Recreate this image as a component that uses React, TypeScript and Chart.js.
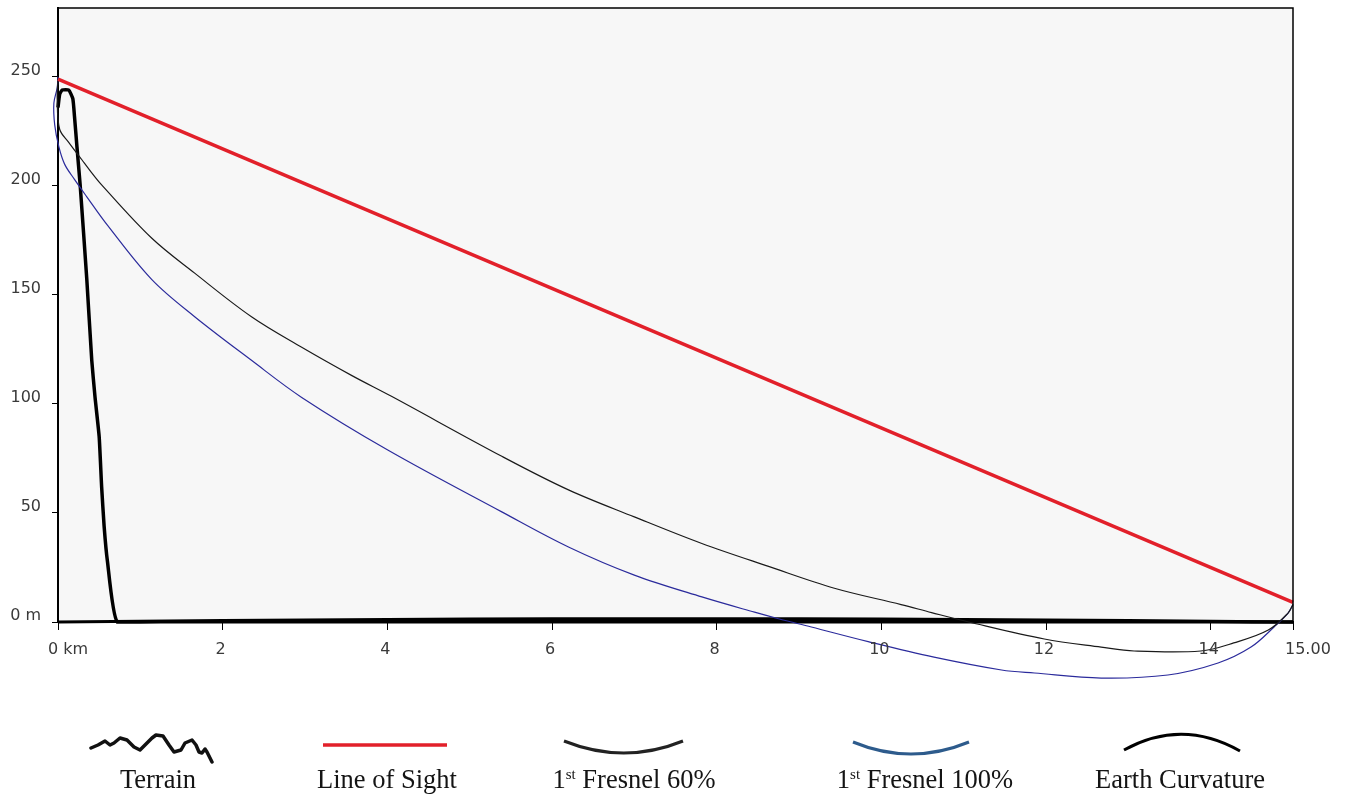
import React, { useEffect, useRef } from "react";
import { Chart, registerables } from "chart.js";

Chart.register(...registerables);

// ---- axis ticks ----
const xTicks = [0, 2, 4, 6, 8, 10, 12, 14, 15];
const xTickLabels = ["0 km", "2", "4", "6", "8", "10", "12", "14", "15.00"];
const yTicks = [0, 50, 100, 150, 200, 250];
const yTickLabels = ["0 m", "50", "100", "150", "200", "250"];

// ---- series (distance km, height m) ----
const losKm = [0, 15];
const losM = [249, 9];

const terrainKm = [0, 0.02, 0.05, 0.13, 0.18, 0.2, 0.23, 0.27, 0.35, 0.41, 0.45, 0.5, 0.53, 0.56, 0.6, 0.72, 1.25, 3, 6, 9, 12, 14, 15];
const terrainM = [236, 242, 244, 244, 240, 232, 218, 200, 157, 120, 103, 85, 62, 44, 28, 0, 0.1, 0.1, 0.1, 0.1, 0.1, 0.1, 0];

const fresnel60Km = [0, -0.01, 0.02, 0.13, 0.29, 0.38, 0.53, 1.14, 1.66, 2.35, 2.96, 3.57, 4.05, 5.39, 6.2, 7.0, 7.82, 8.63, 9.43, 10.24, 10.61, 11.06, 11.98, 12.67, 13.07, 13.88, 14.28, 14.7, 14.94, 15];
const fresnel60M = [249, 240, 226, 220, 212, 207.5, 200.5, 176, 160, 140, 126, 113, 103.5, 76, 60.6, 48.2, 36, 25.5, 15.5, 8, 4.3, 0, -7.8, -11.5, -13.3, -13.3, -9.6, -3.7, 4.1, 8];

const fresnel100Km = [0, -0.01, -0.05, -0.04, 0.01, 0.08, 0.2, 0.35, 0.6, 1.14, 1.66, 2.35, 2.96, 4.0, 5.39, 6.2, 7.0, 7.82, 8.46, 8.75, 9.15, 9.84, 10.64, 11.46, 11.86, 12.67, 13.48, 14.09, 14.49, 14.77, 14.94, 15];
const fresnel100M = [250, 245, 238, 228, 218, 210, 203, 195, 182, 157, 140, 120, 103, 79, 50.5, 34.4, 21.5, 11.5, 4.5, 1.5, -2.3, -9, -16.1, -22, -23.4, -25.7, -24.3, -18.8, -11.5, -2.3, 4.1, 8];

const curvatureKm = [0, 1, 2, 3, 4, 5, 6, 7, 8, 9, 10, 11, 12, 13, 14, 15];
const curvatureM = [0, 0.37, 0.69, 0.96, 1.17, 1.33, 1.44, 1.49, 1.49, 1.44, 1.33, 1.17, 0.96, 0.69, 0.37, 0];

const zip = (xs: number[], ys: number[]) => xs.map((x, i) => ({ x, y: ys[i] }));

const TICK_FONT = '16px "DejaVu Sans"';
const TICK_COLOR = "#3a3a3a";

const framePlugin = {
  id: "frame",
  beforeDraw(chart: any) {
    const { ctx, chartArea: a } = chart;
    ctx.save();
    ctx.fillStyle = "#f7f7f7";
    ctx.fillRect(a.left, a.top, a.right - a.left, a.bottom - a.top);
    ctx.restore();
  },
  afterDraw(chart: any) {
    const { ctx, chartArea: a } = chart;
    ctx.save();
    ctx.strokeStyle = "#000";
    ctx.lineWidth = 1.5;
    ctx.beginPath();
    ctx.moveTo(a.left, a.top);
    ctx.lineTo(a.right, a.top);
    ctx.lineTo(a.right, a.bottom);
    ctx.stroke();
    // x tick labels
    const xs = chart.scales.x;
    ctx.font = TICK_FONT;
    ctx.fillStyle = TICK_COLOR;
    ctx.textBaseline = "middle";
    xTicks.forEach((v, i) => {
      const px = xs.getPixelForValue(v);
      if (i === 0) {
        ctx.textAlign = "left";
        ctx.fillText(xTickLabels[i], px - 10, 650);
      } else if (i === xTicks.length - 1) {
        ctx.textAlign = "left";
        ctx.fillText(xTickLabels[i], px - 8, 650);
      } else {
        ctx.textAlign = "center";
        ctx.fillText(xTickLabels[i], px - 2, 650);
      }
    });
    ctx.restore();
  },
};

function ChartCanvas() {
  const ref = useRef<HTMLCanvasElement | null>(null);
  useEffect(() => {
    if (!ref.current) return;
    const line = (data: any, color: string, width: number, order: number, label: string, tension: number) => ({
      label,
      data,
      borderColor: color,
      backgroundColor: color,
      borderWidth: width,
      showLine: true,
      pointRadius: 0,
      tension,
      fill: false,
      clip: false,
      order,
      borderJoinStyle: "round",
    });
    const chart = new Chart(ref.current, {
      type: "scatter",
      data: {
        datasets: [
          line(zip(losKm, losM), "#e2202a", 3.5, 0, "Line of Sight", 0),
          line(zip(fresnel60Km, fresnel60M), "#1a1a1a", 1.2, 1, "1st Fresnel 60%", 0.35),
          line(zip(fresnel100Km, fresnel100M), "#2b2b9c", 1.2, 2, "1st Fresnel 100%", 0.35),
          line(zip(terrainKm, terrainM), "#000000", 3.5, 3, "Terrain", 0.15),
          line(zip(curvatureKm, curvatureM), "#000000", 3, 4, "Earth Curvature", 0),
        ] as any,
      },
      options: {
        animation: false,
        responsive: false,
        maintainAspectRatio: false,
        events: [],
        layout: { padding: { top: 8, right: 56, left: 0, bottom: 0 } },
        plugins: { legend: { display: false }, tooltip: { enabled: false } },
        scales: {
          x: {
            type: "linear",
            min: 0,
            max: 15,
            afterBuildTicks: (s: any) => {
              s.ticks = xTicks.map((v) => ({ value: v }));
            },
            afterFit: (s: any) => {
              s.height = 78;
              s.paddingLeft = 0;
              s.paddingRight = 0;
            },
            ticks: { display: false },
            grid: { drawOnChartArea: false, drawTicks: true, tickLength: 8, color: "#000", lineWidth: 1 },
            border: { display: true, color: "#000", width: 2 },
          },
          y: {
            type: "linear",
            min: 0,
            max: 281.6,
            afterBuildTicks: (s: any) => {
              s.ticks = yTicks.map((v) => ({ value: v }));
            },
            afterFit: (s: any) => {
              s.width = 58;
              s.paddingTop = 0;
              s.paddingBottom = 0;
            },
            ticks: {
              callback: (_v: any, i: number) => yTickLabels[i],
              font: { family: "DejaVu Sans", size: 16 },
              color: TICK_COLOR,
              padding: 11,
              labelOffset: -6,
            },
            grid: { drawOnChartArea: false, drawTicks: true, tickLength: 6, color: "#000", lineWidth: 1 },
            border: { display: true, color: "#000", width: 2 },
          },
        },
      } as any,
      plugins: [framePlugin],
    });
    return () => chart.destroy();
  }, []);
  return (
    <canvas
      ref={ref}
      width={1349}
      height={700}
      style={{ position: "absolute", left: 0, top: 0, width: 1349, height: 700, display: "block" }}
    />
  );
}

const legendText: React.CSSProperties = {
  position: "absolute",
  top: 764,
  width: 300,
  textAlign: "center",
  fontFamily: '"Liberation Serif", "Times New Roman", serif',
  fontSize: "26.5px",
  lineHeight: "30px",
  color: "#141414",
  whiteSpace: "nowrap",
};

const sup: React.CSSProperties = { fontSize: "15px", position: "relative", top: "-9px" };

function Legend() {
  return (
    <>
      <svg
        width={1349}
        height={798}
        style={{ position: "absolute", left: 0, top: 0, pointerEvents: "none" }}
      >
        <polyline
          points="91,748 98,745 105,741 110,745 114,743 120,738 127,740 134,747 140,750 145,745 152,738 156,735 163,736 169,745 174,752 181,750 185,743 192,740 196,745 199,752 202,753 205,749 207,752 212,762"
          fill="none"
          stroke="#111"
          strokeWidth={3.5}
          strokeLinejoin="round"
          strokeLinecap="round"
        />
        <line x1={323} y1={745} x2={447} y2={745} stroke="#e2202a" strokeWidth={3.5} />
        <path d="M564,741 Q624,765 683,741" fill="none" stroke="#222" strokeWidth={3} />
        <path d="M853,742 Q911,766 969,742" fill="none" stroke="#2d5b8c" strokeWidth={3} />
        <path d="M1124,750 Q1182,718 1240,751" fill="none" stroke="#000" strokeWidth={3} />
      </svg>
      <div style={{ ...legendText, left: 158 - 150 }}>Terrain</div>
      <div style={{ ...legendText, left: 387 - 150 }}>Line of Sight</div>
      <div style={{ ...legendText, left: 634 - 150 }}>
        1<span style={sup}>st</span> Fresnel 60%
      </div>
      <div style={{ ...legendText, left: 925 - 150 }}>
        1<span style={sup}>st</span> Fresnel 100%
      </div>
      <div style={{ ...legendText, left: 1180 - 150 }}>Earth Curvature</div>
    </>
  );
}

export default function App() {
  return (
    <div style={{ position: "absolute", left: 0, top: 0, width: 1349, height: 798, background: "#fff", overflow: "hidden" }}>
      <ChartCanvas />
      <Legend />
    </div>
  );
}
